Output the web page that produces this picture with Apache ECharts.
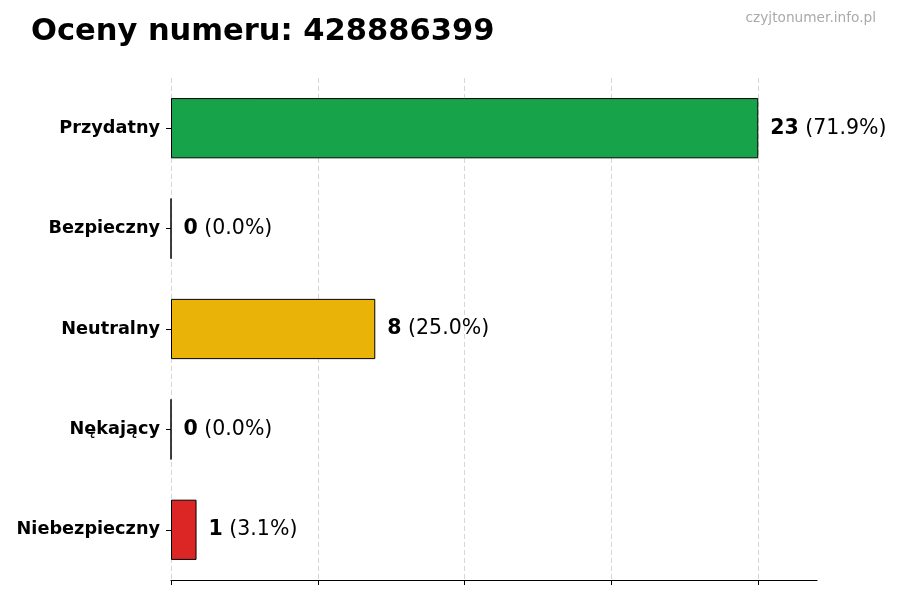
<!DOCTYPE html>
<html><head><meta charset="utf-8">
<script src="https://cdn.jsdelivr.net/npm/echarts@6/dist/echarts.min.js"></script>
<style>html,body{margin:0;padding:0;background:#fff}#c{width:900px;height:600px}</style>
</head><body><div id="c"></div>
<script>
const categories = ['Przydatny', 'Bezpieczny', 'Neutralny', 'Nękający', 'Niebezpieczny'];
const values = [23, 0, 8, 0, 1];
const percents = ['71.9%', '0.0%', '25.0%', '0.0%', '3.1%'];
const colors = ['#16a34a', '#16a34a', '#eab308', '#dc2626', '#dc2626'];
const titleText = 'Oceny numeru: 428886399';
const watermark = 'czyjtonumer.info.pl';

const maxV = Math.max(...values);
const chart = echarts.init(document.getElementById('c'));
chart.setOption({
  backgroundColor: '#fff',
  animation: false,
  title: [{
    text: titleText, left: 26, top: 12,
    textStyle: { fontFamily: 'DejaVu Sans', fontWeight: 'bold', fontSize: 30.5, color: '#000' }
  }, {
    text: watermark, right: 19, top: 6,
    textStyle: { fontFamily: 'DejaVu Sans', fontWeight: 'normal', fontSize: 13.7, color: '#aaaaaa' }
  }],
  grid: { left: 171, right: 83, top: 78, bottom: 20, containLabel: false },
  xAxis: {
    type: 'value', min: 0, max: maxV * 1.1, interval: maxV / 4,
    axisLabel: { show: false },
    axisLine: { show: true, lineStyle: { color: '#000', width: 1.2 } },
    axisTick: { show: true, length: 5, lineStyle: { color: '#000' }, customValues: [0, maxV / 4, maxV / 2, maxV * 3 / 4, maxV] },
    splitLine: { show: true, lineStyle: { color: '#cccccc', type: [5, 3], width: 0.8 } }
  },
  yAxis: {
    type: 'category', data: categories, inverse: true,
    axisLine: { show: false },
    axisTick: { show: true, length: 5, alignWithLabel: true, lineStyle: { color: '#000' } },
    axisLabel: { margin: 11, padding: [3, 0, 0, 0], fontFamily: 'DejaVu Sans', fontWeight: 'bold', fontSize: 17.7, color: '#000' }
  },
  series: [{
    type: 'bar', barWidth: '60%',
    data: values.map((v, i) => ({ value: v, itemStyle: { color: colors[i] } })),
    itemStyle: { borderColor: '#000', borderWidth: 1 },
    label: {
      show: true, position: 'right', distance: 12,
      formatter: p => '{b|' + p.value + '}{n| (' + percents[p.dataIndex] + ')}',
      rich: {
        b: { fontFamily: 'DejaVu Sans', fontWeight: 'bold', fontSize: 20.5, color: '#000' },
        n: { fontFamily: 'DejaVu Sans', fontWeight: 'normal', fontSize: 20.5, color: '#000' }
      }
    }
  }]
});
</script></body></html>
